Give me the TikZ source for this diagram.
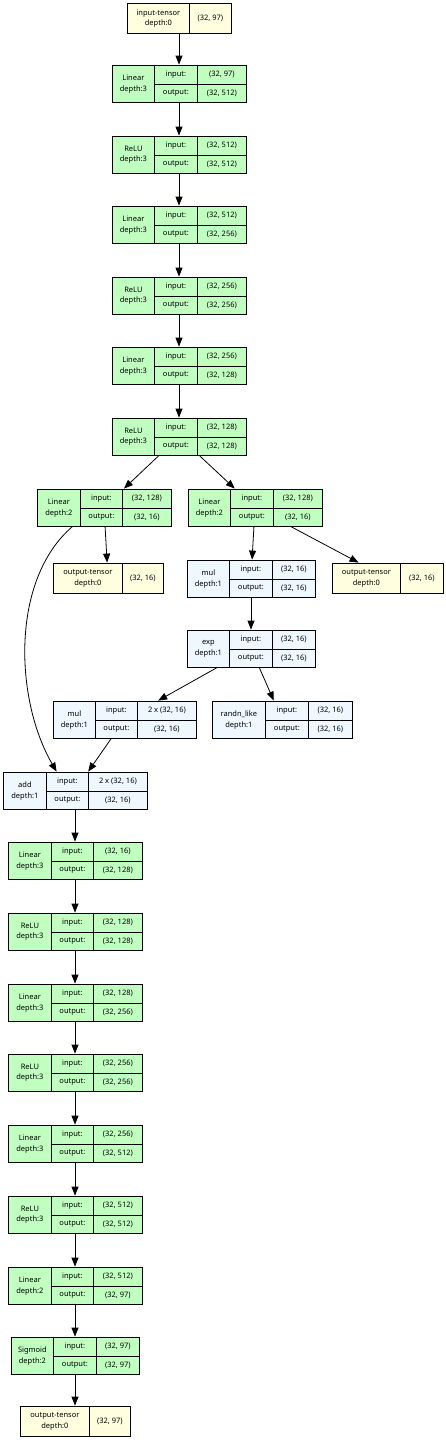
\documentclass[tikz,border=0pt]{standalone}
\usepackage{fontspec}
\setmainfont{Noto Sans}
\usepackage{tikz}
\usetikzlibrary{arrows.meta}
\definecolor{lgreen}{HTML}{C1FFC1}
\definecolor{lyellow}{HTML}{FFFFE0}
\definecolor{lblue}{HTML}{F0F8FF}

\begin{document}
\begin{tikzpicture}[x=1pt,y=1pt,yscale=-1,xscale=1,
        rec/.style={draw, line width=0.8pt, inner sep=0pt, minimum height=37pt},
        tens/.style={draw, line width=0.8pt, inner sep=0pt, minimum height=30pt, fill=lyellow},
        cell/.style={draw, line width=0.8pt, inner sep=0pt, anchor=north west, align=center, font=\fontsize{7.5}{10.5}\selectfont},
        lab/.style={cell, minimum height=37pt},
        row/.style={cell, minimum height=18.5pt},
        tlab/.style={cell, minimum height=30pt},
        arr/.style={line width=0.8pt, -{Triangle[length=9pt,width=7pt]}}]
        \path (0,0) rectangle (446,1440); %set diagram to 446 x 1440

        %Shape: Record [inp]
        \node [tens, minimum width=104pt] (inp) at (179,18) {};
        \node [tlab, minimum width=62pt] (inpl) at (127,3) {input-tensor\\depth:0};
        \node [tlab, minimum width=42pt] (inpv) at (189,3) {(32, 97)};

        %Shape: Record [lin1]
        \node [rec, fill=lgreen, minimum width=134pt] (lin1) at (179,83.5) {};
        \node [lab, minimum width=42pt] (lin1l) at (112,65) {Linear\\depth:3};
        \node [row, minimum width=43pt] (lin1i) at (154,65) {input:};
        \node [row, minimum width=43pt] (lin1o) at (154,83.5) {output:};
        \node [row, minimum width=49pt] (lin1iv) at (197,65) {(32, 97)};
        \node [row, minimum width=49pt] (lin1ov) at (197,83.5) {(32, 512)};

        %Shape: Record [relu1]
        \node [rec, fill=lgreen, minimum width=134pt] (relu1) at (179,154.5) {};
        \node [lab, minimum width=42pt] (relu1l) at (112,136) {ReLU\\depth:3};
        \node [row, minimum width=43pt] (relu1i) at (154,136) {input:};
        \node [row, minimum width=43pt] (relu1o) at (154,154.5) {output:};
        \node [row, minimum width=49pt] (relu1iv) at (197,136) {(32, 512)};
        \node [row, minimum width=49pt] (relu1ov) at (197,154.5) {(32, 512)};

        %Shape: Record [lin2]
        \node [rec, fill=lgreen, minimum width=134pt] (lin2) at (179,224.5) {};
        \node [lab, minimum width=42pt] (lin2l) at (112,206) {Linear\\depth:3};
        \node [row, minimum width=43pt] (lin2i) at (154,206) {input:};
        \node [row, minimum width=43pt] (lin2o) at (154,224.5) {output:};
        \node [row, minimum width=49pt] (lin2iv) at (197,206) {(32, 512)};
        \node [row, minimum width=49pt] (lin2ov) at (197,224.5) {(32, 256)};

        %Shape: Record [relu2]
        \node [rec, fill=lgreen, minimum width=134pt] (relu2) at (179,295.5) {};
        \node [lab, minimum width=42pt] (relu2l) at (112,277) {ReLU\\depth:3};
        \node [row, minimum width=43pt] (relu2i) at (154,277) {input:};
        \node [row, minimum width=43pt] (relu2o) at (154,295.5) {output:};
        \node [row, minimum width=49pt] (relu2iv) at (197,277) {(32, 256)};
        \node [row, minimum width=49pt] (relu2ov) at (197,295.5) {(32, 256)};

        %Shape: Record [lin3]
        \node [rec, fill=lgreen, minimum width=134pt] (lin3) at (179,365.5) {};
        \node [lab, minimum width=42pt] (lin3l) at (112,347) {Linear\\depth:3};
        \node [row, minimum width=43pt] (lin3i) at (154,347) {input:};
        \node [row, minimum width=43pt] (lin3o) at (154,365.5) {output:};
        \node [row, minimum width=49pt] (lin3iv) at (197,347) {(32, 256)};
        \node [row, minimum width=49pt] (lin3ov) at (197,365.5) {(32, 128)};

        %Shape: Record [relu3]
        \node [rec, fill=lgreen, minimum width=134pt] (relu3) at (179,436.5) {};
        \node [lab, minimum width=42pt] (relu3l) at (112,418) {ReLU\\depth:3};
        \node [row, minimum width=43pt] (relu3i) at (154,418) {input:};
        \node [row, minimum width=43pt] (relu3o) at (154,436.5) {output:};
        \node [row, minimum width=49pt] (relu3iv) at (197,418) {(32, 128)};
        \node [row, minimum width=49pt] (relu3ov) at (197,436.5) {(32, 128)};

        %Shape: Record [linL]
        \node [rec, fill=lgreen, minimum width=134pt] (linL) at (104,507.5) {};
        \node [lab, minimum width=43pt] (linLl) at (37,489) {Linear\\depth:2};
        \node [row, minimum width=42pt] (linLi) at (80,489) {input:};
        \node [row, minimum width=42pt] (linLo) at (80,507.5) {output:};
        \node [row, minimum width=49pt] (linLiv) at (122,489) {(32, 128)};
        \node [row, minimum width=49pt] (linLov) at (122,507.5) {(32, 16)};

        %Shape: Record [linR]
        \node [rec, fill=lgreen, minimum width=134pt] (linR) at (255,507.5) {};
        \node [lab, minimum width=42pt] (linRl) at (188,489) {Linear\\depth:2};
        \node [row, minimum width=43pt] (linRi) at (230,489) {input:};
        \node [row, minimum width=43pt] (linRo) at (230,507.5) {output:};
        \node [row, minimum width=49pt] (linRiv) at (273,489) {(32, 128)};
        \node [row, minimum width=49pt] (linRov) at (273,507.5) {(32, 16)};

        %Shape: Record [outL]
        \node [tens, minimum width=110pt] (outL) at (108,578) {};
        \node [tlab, minimum width=69pt] (outLl) at (53,563) {output-tensor\\depth:0};
        \node [tlab, minimum width=41pt] (outLv) at (122,563) {(32, 16)};

        %Shape: Record [mulA]
        \node [rec, fill=lblue, minimum width=128pt] (mulA) at (251,578.5) {};
        \node [lab, minimum width=42pt] (mulAl) at (187,560) {mul\\depth:1};
        \node [row, minimum width=43pt] (mulAi) at (229,560) {input:};
        \node [row, minimum width=43pt] (mulAo) at (229,578.5) {output:};
        \node [row, minimum width=43pt] (mulAiv) at (272,560) {(32, 16)};
        \node [row, minimum width=43pt] (mulAov) at (272,578.5) {(32, 16)};

        %Shape: Record [outR]
        \node [tens, minimum width=111pt] (outR) at (387.5,578) {};
        \node [tlab, minimum width=68pt] (outRl) at (332,563) {output-tensor\\depth:0};
        \node [tlab, minimum width=43pt] (outRv) at (400,563) {(32, 16)};

        %Shape: Record [expA]
        \node [rec, fill=lblue, minimum width=128pt] (expA) at (251,648.5) {};
        \node [lab, minimum width=42pt] (expAl) at (187,630) {exp\\depth:1};
        \node [row, minimum width=43pt] (expAi) at (229,630) {input:};
        \node [row, minimum width=43pt] (expAo) at (229,648.5) {output:};
        \node [row, minimum width=43pt] (expAiv) at (272,630) {(32, 16)};
        \node [row, minimum width=43pt] (expAov) at (272,648.5) {(32, 16)};

        %Shape: Record [mulB]
        \node [rec, fill=lblue, minimum width=143pt] (mulB) at (124.5,719.5) {};
        \node [lab, minimum width=42pt] (mulBl) at (53,701) {mul\\depth:1};
        \node [row, minimum width=42pt] (mulBi) at (95,701) {input:};
        \node [row, minimum width=42pt] (mulBo) at (95,719.5) {output:};
        \node [row, minimum width=59pt] (mulBiv) at (137,701) {2 x (32, 16)};
        \node [row, minimum width=59pt] (mulBov) at (137,719.5) {(32, 16)};

        %Shape: Record [randn]
        \node [rec, fill=lblue, minimum width=140pt] (randn) at (282,719.5) {};
        \node [lab, minimum width=53pt] (randnl) at (212,701) {randn\_like\\depth:1};
        \node [row, minimum width=43pt] (randni) at (265,701) {input:};
        \node [row, minimum width=43pt] (randno) at (265,719.5) {output:};
        \node [row, minimum width=44pt] (randniv) at (308,701) {(32, 16)};
        \node [row, minimum width=44pt] (randnov) at (308,719.5) {(32, 16)};

        %Shape: Record [add]
        \node [rec, fill=lblue, minimum width=144pt] (add) at (75,790.5) {};
        \node [lab, minimum width=43pt] (addl) at (3,772) {add\\depth:1};
        \node [row, minimum width=42pt] (addi) at (46,772) {input:};
        \node [row, minimum width=42pt] (addo) at (46,790.5) {output:};
        \node [row, minimum width=59pt] (addiv) at (88,772) {2 x (32, 16)};
        \node [row, minimum width=59pt] (addov) at (88,790.5) {(32, 16)};

        %Shape: Record [lin4]
        \node [rec, fill=lgreen, minimum width=134pt] (lin4) at (75,860.5) {};
        \node [lab, minimum width=43pt] (lin4l) at (8,842) {Linear\\depth:3};
        \node [row, minimum width=42pt] (lin4i) at (51,842) {input:};
        \node [row, minimum width=42pt] (lin4o) at (51,860.5) {output:};
        \node [row, minimum width=49pt] (lin4iv) at (93,842) {(32, 16)};
        \node [row, minimum width=49pt] (lin4ov) at (93,860.5) {(32, 128)};

        %Shape: Record [relu4]
        \node [rec, fill=lgreen, minimum width=134pt] (relu4) at (75,931.5) {};
        \node [lab, minimum width=43pt] (relu4l) at (8,913) {ReLU\\depth:3};
        \node [row, minimum width=42pt] (relu4i) at (51,913) {input:};
        \node [row, minimum width=42pt] (relu4o) at (51,931.5) {output:};
        \node [row, minimum width=49pt] (relu4iv) at (93,913) {(32, 128)};
        \node [row, minimum width=49pt] (relu4ov) at (93,931.5) {(32, 128)};

        %Shape: Record [lin5]
        \node [rec, fill=lgreen, minimum width=134pt] (lin5) at (75,1002.5) {};
        \node [lab, minimum width=43pt] (lin5l) at (8,984) {Linear\\depth:3};
        \node [row, minimum width=42pt] (lin5i) at (51,984) {input:};
        \node [row, minimum width=42pt] (lin5o) at (51,1002.5) {output:};
        \node [row, minimum width=49pt] (lin5iv) at (93,984) {(32, 128)};
        \node [row, minimum width=49pt] (lin5ov) at (93,1002.5) {(32, 256)};

        %Shape: Record [relu5]
        \node [rec, fill=lgreen, minimum width=134pt] (relu5) at (75,1072.5) {};
        \node [lab, minimum width=43pt] (relu5l) at (8,1054) {ReLU\\depth:3};
        \node [row, minimum width=42pt] (relu5i) at (51,1054) {input:};
        \node [row, minimum width=42pt] (relu5o) at (51,1072.5) {output:};
        \node [row, minimum width=49pt] (relu5iv) at (93,1054) {(32, 256)};
        \node [row, minimum width=49pt] (relu5ov) at (93,1072.5) {(32, 256)};

        %Shape: Record [lin6]
        \node [rec, fill=lgreen, minimum width=134pt] (lin6) at (75,1143.5) {};
        \node [lab, minimum width=43pt] (lin6l) at (8,1125) {Linear\\depth:3};
        \node [row, minimum width=42pt] (lin6i) at (51,1125) {input:};
        \node [row, minimum width=42pt] (lin6o) at (51,1143.5) {output:};
        \node [row, minimum width=49pt] (lin6iv) at (93,1125) {(32, 256)};
        \node [row, minimum width=49pt] (lin6ov) at (93,1143.5) {(32, 512)};

        %Shape: Record [relu6]
        \node [rec, fill=lgreen, minimum width=134pt] (relu6) at (75,1214.5) {};
        \node [lab, minimum width=43pt] (relu6l) at (8,1196) {ReLU\\depth:3};
        \node [row, minimum width=42pt] (relu6i) at (51,1196) {input:};
        \node [row, minimum width=42pt] (relu6o) at (51,1214.5) {output:};
        \node [row, minimum width=49pt] (relu6iv) at (93,1196) {(32, 512)};
        \node [row, minimum width=49pt] (relu6ov) at (93,1214.5) {(32, 512)};

        %Shape: Record [lin7]
        \node [rec, fill=lgreen, minimum width=134pt] (lin7) at (75,1285.5) {};
        \node [lab, minimum width=43pt] (lin7l) at (8,1267) {Linear\\depth:2};
        \node [row, minimum width=42pt] (lin7i) at (51,1267) {input:};
        \node [row, minimum width=42pt] (lin7o) at (51,1285.5) {output:};
        \node [row, minimum width=49pt] (lin7iv) at (93,1267) {(32, 512)};
        \node [row, minimum width=49pt] (lin7ov) at (93,1285.5) {(32, 97)};

        %Shape: Record [sigm]
        \node [rec, fill=lgreen, minimum width=128pt] (sigm) at (75,1355.5) {};
        \node [lab, minimum width=42pt] (sigml) at (11,1337) {Sigmoid\\depth:2};
        \node [row, minimum width=43pt] (sigmi) at (53,1337) {input:};
        \node [row, minimum width=43pt] (sigmo) at (53,1355.5) {output:};
        \node [row, minimum width=43pt] (sigmiv) at (96,1337) {(32, 97)};
        \node [row, minimum width=43pt] (sigmov) at (96,1355.5) {(32, 97)};

        %Shape: Record [outF]
        \node [tens, minimum width=110pt] (outF) at (75,1421) {};
        \node [tlab, minimum width=69pt] (outFl) at (20,1406) {output-tensor\\depth:0};
        \node [tlab, minimum width=41pt] (outFv) at (89,1406) {(32, 97)};

        % Edges
        \draw [arr] (inp) -- (lin1);
        \draw [arr] (lin1) -- (relu1);
        \draw [arr] (relu1) -- (lin2);
        \draw [arr] (lin2) -- (relu2);
        \draw [arr] (relu2) -- (lin3);
        \draw [arr] (lin3) -- (relu3);
        \draw [arr] (relu3) -- (linL);
        \draw [arr] (relu3) -- (linR);
        \draw [arr] (linL) -- (outL);
        \draw [arr] ([xshift=36pt]linL.south west) .. controls (10,580) and (15,700) .. ([xshift=54pt]add.north west);
        \draw [arr] (linR) -- (mulA);
        \draw [arr] (linR) -- (outR);
        \draw [arr] (mulA) -- (expA);
        \draw [arr] (expA) -- (mulB);
        \draw [arr] (expA) -- (randn);
        \draw [arr] (mulB) -- (add);
        \draw [arr] (add) -- (lin4);
        \draw [arr] (lin4) -- (relu4);
        \draw [arr] (relu4) -- (lin5);
        \draw [arr] (lin5) -- (relu5);
        \draw [arr] (relu5) -- (lin6);
        \draw [arr] (lin6) -- (relu6);
        \draw [arr] (relu6) -- (lin7);
        \draw [arr] (lin7) -- (sigm);
        \draw [arr] (sigm) -- (outF);

\end{tikzpicture}
\end{document}
